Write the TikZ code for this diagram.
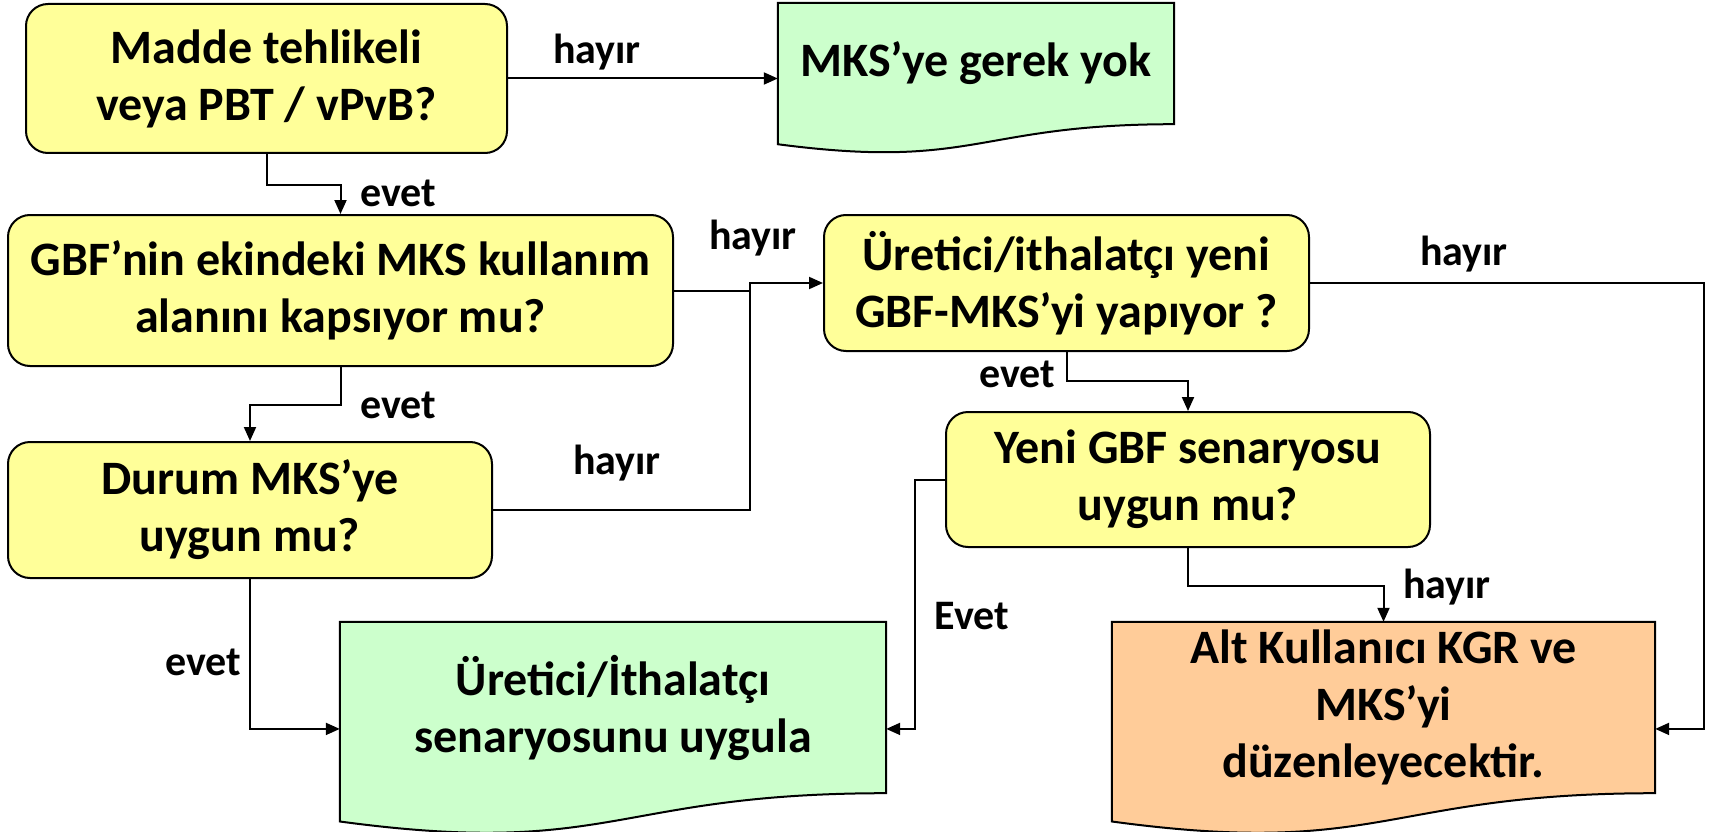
\documentclass[tikz,border=0pt]{standalone}
\usepackage{fontspec}
\setmainfont{Carlito}
\usepackage{tikz}
\usetikzlibrary{arrows.meta}
\usetikzlibrary{positioning}
\usetikzlibrary{calc}
\usetikzlibrary{backgrounds}
\definecolor{askyellow}{HTML}{FFFF99}
\definecolor{endgreen}{HTML}{CCFFCC}
\definecolor{endorange}{HTML}{FFCC99}
\tikzset{
  question/.style={draw, line width=2pt, fill=askyellow, rounded corners=22pt,
    align=center, inner sep=0pt, font=\fontsize{48}{57}\selectfont\bfseries},
  outcome/.style={align=center, inner sep=0pt, font=\fontsize{48}{57}\selectfont\bfseries},
  answer/.style={inner sep=0pt, font=\fontsize{42}{48}\selectfont\bfseries},
  link/.style={line width=2pt, -{Triangle[length=14pt,width=12pt]}},
  plain/.style={line width=2pt},
}

\begin{document}
\begin{tikzpicture}[x=1pt, y=-1pt]
      \useasboundingbox (0,0) rectangle (1719,832);
      % questions
      \node[question, minimum width=481pt, minimum height=149pt] (hazard) at (266.5,78.5)
        {Madde tehlikeli\\veya PBT / vPvB?};
      \node[question, minimum width=665pt, minimum height=151pt] (coverage) at (340.5,290.5)
        {GBF’nin ekindeki MKS kullanım\\alanını kapsıyor mu?};
      \node[question, minimum width=484pt, minimum height=136pt] (situation) at (250,510)
        {Durum MKS’ye\\uygun mu?};
      \node[question, minimum width=485pt, minimum height=136pt] (maker) at (1066.5,283)
        {Üretici/ithalatçı yeni\\GBF-MKS’yi yapıyor ?};
      \node[question, minimum width=484pt, minimum height=135pt] (newscenario) at (1188,479.5)
        {Yeni GBF senaryosu\\uygun mu?};
      % outcomes
      \node[outcome, minimum width=396pt, minimum height=121pt] (nomks) at (976,63.5)
        {MKS’ye gerek yok};
      \node[outcome, minimum width=546pt, minimum height=171pt] (apply) at (613,707.5)
        {Üretici/İthalatçı\\senaryosunu uygula};
      \node[outcome, minimum width=543pt, minimum height=171pt] (user) at (1383.5,707.5)
        {Alt Kullanıcı KGR ve\\MKS’yi\\düzenleyecektir.};
      \begin{scope}[on background layer]
        \foreach \nd/\cl in {nomks/endgreen, apply/endgreen, user/endorange}
          \draw[line width=2pt, fill=\cl] (\nd.north west) -- (\nd.north east) -- (\nd.south east)
            .. controls (\nd.south) and ($(\nd.south)!-0.38!(\nd.north)$)
            .. ($(\nd.south west)!-0.165!(\nd.north west)$) -- cycle;
      \end{scope}
      % connector ends
      \coordinate (join) at (750,283);
      \coordinate (eastrail) at (1704,283);
      \coordinate (westrail) at (915,479.5);
      \coordinate (applyin) at ($(apply.north west)!0.625!(apply.south west)$);
      \coordinate (applyout) at ($(apply.north east)!0.625!(apply.south east)$);
      \coordinate (userin) at ($(user.north east)!0.625!(user.south east)$);
      % connectors
      \draw[link] (hazard.east) -- (hazard.east -| nomks.west);
      \draw[link] (hazard.south) -- ++(0,31) -| (coverage.north);
      \draw[link] (coverage.east) -| (join) -- (maker.west);
      \draw[plain] (situation.east) -| (join);
      \draw[link] (coverage.south) -- ++(0,38) -| (situation.north);
      \draw[link] (situation.south) |- (applyin);
      \draw[link] (maker.south) -- ++(0,29) -| (newscenario.north);
      \draw[link] (maker.east) -- (eastrail) |- (userin);
      \draw[link] (newscenario.west) -- (westrail) |- (applyout);
      \draw[link] (newscenario.south) -- ++(0,38) -| (user.north);
      % answers
      \node[answer] (no1) at (597,52) {hayır};
      \node[answer] (yes1) at (398,193) {evet};
      \node[answer] (no2) at (753,238) {hayır};
      \node[answer] (yes2) at (398,405) {evet};
      \node[answer] (no3) at (617,463) {hayır};
      \node[answer] (yes3) at (203,662) {evet};
      \node[answer] (yes4) at (1017,374) {evet};
      \node[answer] (no4) at (1464,254) {hayır};
      \node[answer] (yes5) at (972,616) {Evet};
      \node[answer] (no5) at (1447,587) {hayır};
    \end{tikzpicture}
\end{document}
